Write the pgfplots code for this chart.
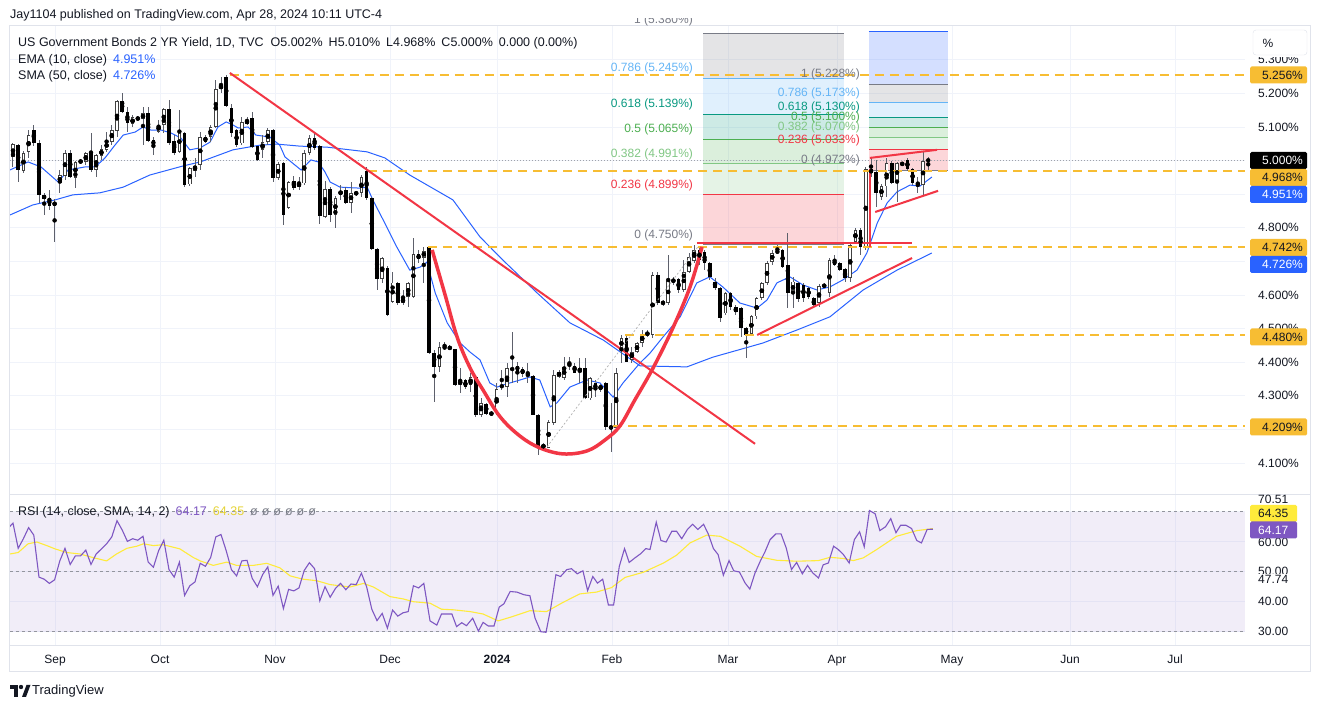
\documentclass[border=0pt]{standalone}
\usepackage{fontspec}
\setmainfont{Liberation Sans}
\usepackage{pgfplots}
\usepackage{pgfplotstable}
\pgfplotsset{compat=1.18}

\definecolor{tvtext}{HTML}{131722}
\definecolor{tvgrid}{HTML}{F0F3FA}
\definecolor{tvframe}{HTML}{E0E3EB}
\definecolor{tvblue}{HTML}{2962FF}
\definecolor{tvred}{HTML}{F23645}
\definecolor{tvyel}{HTML}{F7BD33}
\definecolor{fibgray}{HTML}{787B86}
\definecolor{fibgreenl}{HTML}{81C784}
\definecolor{fibgreen}{HTML}{4CAF50}
\definecolor{fibteal}{HTML}{089981}
\definecolor{fibblue}{HTML}{64B5F6}
\definecolor{rsipurple}{HTML}{7E57C2}
\definecolor{rsiyel}{HTML}{FFEB3B}
\definecolor{wick}{HTML}{5D606B}

% daily candles, i = bar index (5.2 px per bar)
\pgfplotstableread{
i o h l c
0 5.010 5.053 4.982 5.049
1 5.046 5.050 4.937 4.972
2 4.970 5.028 4.962 5.022
3 5.027 5.091 5.007 5.076
4 5.091 5.106 5.045 5.052
5 5.052 5.060 4.873 4.898
6 4.898 4.905 4.839 4.885
7 4.888 4.913 4.853 4.865
8 4.865 4.885 4.759 4.878
9 4.932 4.972 4.903 4.957
10 4.954 5.032 4.942 5.022
11 5.024 5.032 4.947 4.952
12 4.947 5.000 4.917 4.997
13 5.000 5.005 4.990 4.994
14 4.997 5.027 4.987 5.022
15 5.024 5.081 4.967 4.972
16 4.972 5.020 4.952 5.017
17 5.014 5.046 5.002 5.034
18 5.032 5.086 5.027 5.058
19 5.056 5.106 5.046 5.091
20 5.089 5.180 5.071 5.177
21 5.177 5.200 5.141 5.146
22 5.146 5.160 5.086 5.113
23 5.108 5.135 5.100 5.129
24 5.128 5.132 5.118 5.123
25 5.123 5.160 5.046 5.141
26 5.141 5.160 5.056 5.058
27 5.061 5.071 5.017 5.046
28 5.086 5.121 5.081 5.106
29 5.106 5.156 5.081 5.154
30 5.154 5.180 5.047 5.053
31 5.058 5.076 5.017 5.022
32 5.027 5.151 5.022 5.086
33 5.083 5.086 4.922 4.927
34 4.929 4.980 4.925 4.977
35 4.969 5.007 4.952 4.985
36 4.987 5.086 4.972 5.071
37 5.071 5.076 5.051 5.056
38 5.071 5.106 5.056 5.101
39 5.099 5.240 5.096 5.213
40 5.213 5.250 5.200 5.225
41 5.250 5.256 5.160 5.163
42 5.157 5.170 5.071 5.081
43 5.091 5.095 5.040 5.046
44 5.051 5.131 5.046 5.116
45 5.109 5.131 5.105 5.121
46 5.126 5.146 5.037 5.042
47 5.042 5.045 4.998 5.002
48 5.032 5.076 5.007 5.056
49 5.056 5.096 5.046 5.091
50 5.091 5.095 4.937 4.947
51 4.947 4.995 4.942 4.989
52 4.992 4.995 4.808 4.838
53 4.858 4.940 4.855 4.937
54 4.939 4.954 4.912 4.917
55 4.922 4.952 4.912 4.934
56 4.932 5.032 4.927 5.022
57 5.022 5.076 5.017 5.066
58 5.066 5.081 5.032 5.037
59 5.042 5.045 4.811 4.836
60 4.833 4.940 4.830 4.915
61 4.914 4.920 4.818 4.838
62 4.838 4.895 4.798 4.888
63 4.898 4.927 4.883 4.910
64 4.912 4.920 4.870 4.875
65 4.875 4.937 4.843 4.903
66 4.901 4.910 4.895 4.905
67 4.903 4.957 4.893 4.952
68 4.968 4.982 4.883 4.888
69 4.888 4.892 4.733 4.736
70 4.736 4.740 4.615 4.647
71 4.647 4.714 4.635 4.709
72 4.681 4.685 4.537 4.540
73 4.580 4.669 4.575 4.637
74 4.635 4.640 4.570 4.575
75 4.575 4.615 4.570 4.592
76 4.593 4.640 4.565 4.635
77 4.593 4.769 4.590 4.721
78 4.721 4.734 4.694 4.706
79 4.711 4.744 4.635 4.731
80 4.742 4.742 4.425 4.428
81 4.428 4.436 4.282 4.387
82 4.387 4.461 4.372 4.444
83 4.441 4.461 4.436 4.446
84 4.446 4.450 4.435 4.439
85 4.439 4.440 4.329 4.332
86 4.332 4.382 4.307 4.347
87 4.347 4.350 4.320 4.325
88 4.332 4.367 4.312 4.357
89 4.357 4.360 4.238 4.243
90 4.243 4.292 4.238 4.278
91 4.276 4.280 4.242 4.246
92 4.246 4.250 4.244 4.248
93 4.248 4.337 4.243 4.319
94 4.325 4.377 4.317 4.332
95 4.325 4.397 4.297 4.382
96 4.377 4.491 4.337 4.382
97 4.389 4.402 4.337 4.375
98 4.379 4.387 4.357 4.365
99 4.360 4.397 4.337 4.364
100 4.360 4.362 4.243 4.243
101 4.243 4.245 4.124 4.149
102 4.146 4.160 4.140 4.154
103 4.146 4.228 4.144 4.223
104 4.218 4.377 4.213 4.362
105 4.357 4.377 4.352 4.372
106 4.352 4.416 4.347 4.387
107 4.395 4.416 4.377 4.389
108 4.389 4.397 4.367 4.369
109 4.372 4.411 4.337 4.382
110 4.382 4.411 4.290 4.292
111 4.292 4.357 4.287 4.352
112 4.337 4.347 4.297 4.319
113 4.317 4.336 4.312 4.332
114 4.337 4.340 4.198 4.208
115 4.203 4.278 4.134 4.208
116 4.203 4.382 4.198 4.367
117 4.441 4.480 4.397 4.471
118 4.471 4.480 4.400 4.402
119 4.407 4.446 4.397 4.431
120 4.431 4.460 4.426 4.456
121 4.456 4.496 4.446 4.484
122 4.488 4.495 4.475 4.481
123 4.481 4.669 4.471 4.660
124 4.660 4.669 4.570 4.575
125 4.580 4.585 4.568 4.573
126 4.575 4.719 4.570 4.643
127 4.640 4.655 4.630 4.645
128 4.647 4.652 4.605 4.615
129 4.615 4.704 4.610 4.669
130 4.669 4.724 4.665 4.714
131 4.700 4.750 4.695 4.735
132 4.735 4.745 4.690 4.705
133 4.729 4.734 4.674 4.694
134 4.694 4.699 4.645 4.655
135 4.640 4.650 4.615 4.620
136 4.620 4.625 4.521 4.531
137 4.545 4.610 4.540 4.605
138 4.605 4.610 4.555 4.565
139 4.565 4.570 4.540 4.550
140 4.560 4.565 4.476 4.501
141 4.501 4.506 4.412 4.481
142 4.484 4.540 4.480 4.536
143 4.536 4.595 4.530 4.590
144 4.590 4.640 4.585 4.635
145 4.635 4.700 4.630 4.694
146 4.699 4.734 4.690 4.726
147 4.726 4.749 4.722 4.731
148 4.734 4.738 4.680 4.684
149 4.689 4.784 4.560 4.605
150 4.605 4.655 4.560 4.640
151 4.635 4.640 4.580 4.587
152 4.630 4.635 4.580 4.590
153 4.620 4.625 4.588 4.595
154 4.590 4.595 4.560 4.570
155 4.575 4.632 4.565 4.627
156 4.625 4.635 4.620 4.630
157 4.605 4.710 4.595 4.704
158 4.704 4.719 4.685 4.689
159 4.694 4.699 4.670 4.674
160 4.676 4.680 4.640 4.650
161 4.650 4.754 4.640 4.749
162 4.759 4.800 4.755 4.793
163 4.793 4.798 4.719 4.744
164 4.744 4.980 4.734 4.974
165 4.974 5.012 4.952 4.962
166 4.967 5.002 4.863 4.903
167 4.893 4.930 4.883 4.923
168 4.923 5.007 4.893 4.992
169 4.992 5.000 4.930 4.934
170 4.937 4.997 4.878 4.992
171 4.989 4.997 4.983 4.992
172 5.002 5.007 4.970 4.974
173 4.974 4.978 4.927 4.934
174 4.934 4.952 4.903 4.929
175 4.927 5.027 4.898 5.000
176 5.002 5.010 4.968 5.000
}\ohlc

\pgfplotstableread{
i v
-0.6 4.972
2.9 4.996
5.4 4.981
8.7 4.936
10.6 4.972
13.8 4.981
15.8 4.981
17.7 5.008
19.6 5.046
21.2 5.076
23.5 5.085
25.0 5.100
26.5 5.091
28.5 5.091
30.4 5.082
32.3 5.067
34.0 5.032
36.0 5.038
37.9 5.055
39.4 5.100
41.0 5.115
42.3 5.106
43.3 5.097
45.2 5.100
46.7 5.076
49.4 5.070
51.3 5.046
52.3 5.011
54.2 4.987
55.4 4.972
57.3 5.002
58.7 4.996
60.0 4.966
61.0 4.936
62.9 4.921
66.7 4.918
68.1 4.921
69.2 4.883
71.2 4.823
73.8 4.743
76.3 4.674
78.3 4.683
79.6 4.698
81.2 4.606
83.5 4.517
86.0 4.457
87.9 4.430
89.8 4.407
91.7 4.338
93.1 4.326
94.2 4.332
97.5 4.347
99.4 4.356
101.3 4.347
103.3 4.267
104.6 4.279
107.1 4.326
110.4 4.347
112.9 4.338
115.4 4.296
117.3 4.338
120.6 4.398
122.5 4.427
125.0 4.475
128.3 4.535
131.5 4.636
134.0 4.654
136.5 4.624
139.8 4.576
143.1 4.561
145.0 4.585
146.9 4.636
149.4 4.654
151.9 4.630
154.6 4.615
157.1 4.624
159.6 4.645
162.3 4.674
164.2 4.725
166.2 4.814
168.1 4.874
170.0 4.907
172.5 4.927
174.4 4.924
176.7 4.951
}\ema

\pgfplotstableread{
i v
-0.6 4.838
3.8 4.868
8.1 4.883
11.5 4.898
16.7 4.904
21.2 4.921
26.3 4.957
32.7 4.984
36.0 4.996
42.3 5.032
47.5 5.046
50.8 5.049
55.2 5.043
60.4 5.040
68.1 5.026
71.5 5.008
76.3 4.957
84.6 4.883
89.8 4.773
94.2 4.704
100.8 4.606
107.1 4.517
113.5 4.466
120.6 4.389
129.6 4.386
134.6 4.415
144.2 4.457
150.8 4.496
157.1 4.535
163.5 4.615
170.0 4.674
176.7 4.725
}\sma

\pgfplotstableread{
i r
-0.6 65.1
0 66.2
1 57.8
2 61.0
3 64.7
4 62.2
5 48.2
6 47.5
7 46.1
8 47.3
9 53.6
10 57.8
11 52.4
12 55.3
13 55.3
14 57.2
15 52.4
16 55.9
17 57.6
18 59.3
19 61.6
20 67.0
21 63.9
22 60.1
23 61.0
24 60.5
25 61.8
26 53.2
27 51.5
28 57.0
29 60.5
30 50.7
31 48.2
32 53.2
33 42.1
34 45.3
35 46.6
36 52.8
37 51.8
38 54.7
39 61.6
40 62.4
41 57.0
42 50.7
43 48.6
44 53.6
45 53.8
46 47.8
47 45.0
48 49.0
49 51.6
50 42.1
51 45.2
52 37.7
53 44.1
54 43.6
55 44.6
56 50.4
57 53.0
58 51.0
59 40.3
60 45.0
61 41.5
62 44.4
63 46.1
64 44.0
65 45.9
66 45.7
67 49.5
68 45.0
69 37.5
70 33.7
71 36.1
72 31.2
73 37.2
74 35.2
75 36.3
76 36.7
77 45.3
78 44.6
79 46.1
80.2 33.6
81.5 32.2
82.4 35.9
84.4 35.9
85.3 31.7
86.3 33.0
87.2 32.0
88.4 34.5
89.5 30.2
90.4 33.1
91.4 31.9
92.5 31.9
93.5 38.2
94.4 39.3
95.6 43.4
96.9 43.2
98.3 42.3
99.4 42.0
100.4 34.5
101.5 30.0
102.5 29.8
103.4 37.8
104.4 49.0
105.3 48.4
106.5 50.7
107.4 51.0
108.5 49.3
109.6 50.3
110.5 43.7
111.5 48.4
112.4 46.2
113.4 47.5
114.5 38.9
115.5 38.9
116.6 51.8
117.6 57.7
118.5 53.1
119.6 54.6
120.7 56.0
121.7 57.7
122.5 57.4
123.7 66.5
124.6 60.4
125.6 59.9
126.7 63.5
127.6 63.5
128.6 61.0
129.7 64.1
130.7 65.8
131.7 64.1
132.8 65.8
133.7 62.6
134.7 57.7
135.6 55.7
136.6 48.8
137.7 53.7
138.6 50.3
139.7 49.9
140.8 46.2
141.7 44.2
142.7 49.6
143.7 53.5
144.6 56.6
145.6 60.7
146.7 62.6
147.7 62.6
148.7 57.9
149.7 50.7
150.7 53.1
151.8 49.3
152.8 52.1
153.8 49.6
154.9 47.9
155.8 52.3
156.8 52.9
157.8 58.5
158.7 57.4
159.7 55.7
160.8 52.9
161.8 60.7
162.8 63.3
163.7 58.3
164.7 70.4
165.8 69.3
166.7 63.7
167.8 65.0
168.8 67.7
169.8 63.0
170.7 65.5
171.7 65.5
172.8 64.4
173.8 60.4
174.7 59.6
175.8 64.1
176.9 64.17
}\rsi

\pgfplotstableread{
i r
-0.6 55.9
1.0 56.4
2.9 59.3
4.6 59.9
6.5 58.7
8.1 57.6
10.3 56.4
12.9 55.9
15.4 54.7
18.0 53.6
19.9 55.9
21.9 57.8
23.8 58.5
25.1 59.3
27.0 58.7
28.9 59.0
32.1 57.6
34.7 54.7
36.0 53.6
38.5 52.1
41.1 53.2
43.0 52.1
46.2 52.1
48.8 52.8
51.3 51.3
53.3 48.6
55.8 47.5
58.4 47.0
61.0 45.7
64.8 44.9
67.4 46.1
69.3 44.9
72.5 41.7
75.1 40.9
77.0 40.0
80.2 39.5
82.4 37.5
84.7 37.3
87.9 36.7
90.4 35.9
93.3 33.6
95.6 34.8
99.4 37.0
102.6 36.7
105.8 39.8
109.0 42.6
112.2 43.2
115.1 44.7
117.7 48.1
121.2 49.8
125.1 52.9
127.6 55.5
130.2 59.6
133.4 62.2
136.0 61.8
139.8 58.5
143.0 55.1
146.9 53.8
150.7 53.5
154.9 53.7
157.1 54.8
159.7 54.4
161.6 53.7
163.5 54.6
166.1 57.4
169.9 61.8
173.8 63.7
176.9 64.35
}\rsima

\pgfplotsset{
  tvaxis/.style={scale only axis, width=1235pt, xmin=-0.577, xmax=236.92,
    axis line style={draw=none}, major tick length=0pt,
    grid=major, major grid style={color=tvgrid, line width=0.8pt},
    xtick={8.08,28.27,50.38,72.5,93.08,115.19,137.5,158.46,180.58,203.27,223.46}},
  candlebar/.style 2 args={only marks, mark=none, forget plot,
    error bars/.cd, y dir=both, y explicit, error mark=none,
    error bar style={line width=#1, color=#2}},
}

\begin{document}
\begin{tikzpicture}[font=\fontsize{12.5}{15}\selectfont]
\useasboundingbox (0,0) rectangle (1320pt,708pt);
\fill[white] (0,0) rectangle (1320pt,708pt);

% ---------- price pane ----------
\begin{axis}[tvaxis, at={(10pt,214pt)}, anchor=south west, height=469pt,
  ymin=4.0077, ymax=5.4036, ytick={4.1,4.2,...,5.3},
  xticklabel={\relax}, yticklabel pos=right,
  /pgf/number format/assume math mode=true,
  yticklabel={\pgfmathprintnumber[fixed,fixed zerofill,precision=3]{\tick}\%},
  yticklabel style={anchor=west, inner sep=0pt, xshift=13pt,
    font=\fontsize{12}{14}\selectfont, text=tvtext}]

% fib retracement 1 (left)
\fill[tvred, fill opacity=0.2] (axis cs:132.7,4.750) rectangle (axis cs:159.8,4.899);
\fill[fibgreenl, fill opacity=0.2] (axis cs:132.7,4.899) rectangle (axis cs:159.8,4.991);
\fill[fibgreen, fill opacity=0.2] (axis cs:132.7,4.991) rectangle (axis cs:159.8,5.065);
\fill[fibteal, fill opacity=0.2] (axis cs:132.7,5.065) rectangle (axis cs:159.8,5.139);
\fill[fibblue, fill opacity=0.2] (axis cs:132.7,5.139) rectangle (axis cs:159.8,5.245);
\fill[fibgray, fill opacity=0.2] (axis cs:132.7,5.245) rectangle (axis cs:159.8,5.380);
\draw[fibgray] (axis cs:132.7,4.750) -- (axis cs:159.8,4.750);
\draw[tvred] (axis cs:132.7,4.899) -- (axis cs:159.8,4.899);
\draw[fibgreenl] (axis cs:132.7,4.991) -- (axis cs:159.8,4.991);
\draw[fibgreen] (axis cs:132.7,5.065) -- (axis cs:159.8,5.065);
\draw[fibteal] (axis cs:132.7,5.139) -- (axis cs:159.8,5.139);
\draw[fibblue] (axis cs:132.7,5.245) -- (axis cs:159.8,5.245);
\draw[fibgray] (axis cs:132.7,5.380) -- (axis cs:159.8,5.380);
% fib retracement 2 (right)
\fill[tvred, fill opacity=0.2] (axis cs:164.6,4.972) rectangle (axis cs:179.8,5.033);
\fill[fibgreenl, fill opacity=0.2] (axis cs:164.6,5.033) rectangle (axis cs:179.8,5.070);
\fill[fibgreen, fill opacity=0.2] (axis cs:164.6,5.070) rectangle (axis cs:179.8,5.100);
\fill[fibteal, fill opacity=0.2] (axis cs:164.6,5.100) rectangle (axis cs:179.8,5.130);
\fill[fibblue, fill opacity=0.2] (axis cs:164.6,5.130) rectangle (axis cs:179.8,5.173);
\fill[fibgray, fill opacity=0.2] (axis cs:164.6,5.173) rectangle (axis cs:179.8,5.228);
\fill[tvblue, fill opacity=0.2] (axis cs:164.6,5.228) rectangle (axis cs:179.8,5.386);
\draw[fibgray] (axis cs:164.6,4.972) -- (axis cs:179.8,4.972);
\draw[tvred] (axis cs:164.6,5.033) -- (axis cs:179.8,5.033);
\draw[fibgreenl] (axis cs:164.6,5.070) -- (axis cs:179.8,5.070);
\draw[fibgreen] (axis cs:164.6,5.100) -- (axis cs:179.8,5.100);
\draw[fibteal] (axis cs:164.6,5.130) -- (axis cs:179.8,5.130);
\draw[fibblue] (axis cs:164.6,5.173) -- (axis cs:179.8,5.173);
\draw[fibgray] (axis cs:164.6,5.228) -- (axis cs:179.8,5.228);
\draw[tvblue] (axis cs:164.6,5.386) -- (axis cs:179.8,5.386);

% last price dotted line
\draw[fibgray!70, dash pattern=on 1pt off 2pt] (axis cs:-0.577,5.000) -- (axis cs:236.92,5.000);

% moving averages
\addplot[tvblue, line width=1pt] table[x=i, y=v] {\sma};
\addplot[tvblue, line width=1pt] table[x=i, y=v] {\ema};

% candles: wicks, bodies, hollow interiors
\addplot[candlebar={1pt}{wick}]
  table[x=i, y expr={(\thisrow{h}+\thisrow{l})/2}, y error expr={(\thisrow{h}-\thisrow{l})/2}] {\ohlc};
\addplot[candlebar={3.6pt}{black}]
  table[x=i, y expr={\thisrow{c}>\thisrow{o} ? nan : (\thisrow{o}+\thisrow{c})/2},
        y error expr={max(abs(\thisrow{o}-\thisrow{c})/2,0.0016)}] {\ohlc};
\addplot[candlebar={3.6pt}{black!75}]
  table[x=i, y expr={\thisrow{c}>\thisrow{o} ? (\thisrow{o}+\thisrow{c})/2 : nan},
        y error expr={max(abs(\thisrow{o}-\thisrow{c})/2,0.0016)}] {\ohlc};
\addplot[candlebar={1.8pt}{white}]
  table[x=i, y expr={\thisrow{c}-\thisrow{o} > 0.007 ? (\thisrow{o}+\thisrow{c})/2 : nan},
        y error expr={abs(\thisrow{o}-\thisrow{c})/2-0.0027}] {\ohlc};

% horizontal levels
\begin{scope}[tvyel, line width=2pt, dash pattern=on 9pt off 6pt]
\draw (axis cs:41.7,5.256) -- (axis cs:236.92,5.256);
\draw (axis cs:68.3,4.968) -- (axis cs:236.92,4.968);
\draw (axis cs:79.8,4.742) -- (axis cs:236.92,4.742);
\draw (axis cs:117.7,4.480) -- (axis cs:236.92,4.480);
\draw (axis cs:115.4,4.209) -- (axis cs:236.92,4.209);
\end{scope}

% trend drawings
\draw[gray!60, line width=0.7pt, dash pattern=on 2pt off 2pt] (axis cs:102.7,4.148) -- (axis cs:131.7,4.743);
\draw[tvred, line width=2pt] (axis cs:41.7,5.261) -- (axis cs:142.7,4.157);
\addplot[tvred, line width=3.5pt, smooth, tension=0.6] coordinates {
  (80.6,4.734) (83.1,4.600) (85.4,4.475) (87.9,4.383) (90.4,4.317) (93.7,4.237)
  (97.5,4.180) (101.3,4.145) (105.8,4.127) (110.4,4.136) (113.8,4.168) (116.7,4.210)
  (119.6,4.288) (123.1,4.383) (126.9,4.502) (130.2,4.624) (132.5,4.743)};
\draw[tvred, line width=2.5pt] (axis cs:131.5,4.755) -- (axis cs:172.9,4.755);
\draw[tvred, line width=2pt] (axis cs:164.8,4.743) -- (axis cs:164.8,4.975);
\draw[tvred, line width=2pt] (axis cs:143.1,4.481) -- (axis cs:172.9,4.710);
\draw[tvred, line width=2pt] (axis cs:164.8,5.008) -- (axis cs:177.7,5.032);
\draw[tvred, line width=2pt] (axis cs:165.8,4.847) -- (axis cs:177.9,4.910);

% fib labels
\begin{scope}[every node/.style={anchor=east, inner sep=0pt, yshift=9.5pt, font=\fontsize{12}{14}\selectfont}]
\node[text=fibgray] at (axis cs:130.8,4.750) {0 (4.750\%)};
\node[text=tvred] at (axis cs:130.8,4.899) {0.236 (4.899\%)};
\node[text=fibgreenl] at (axis cs:130.8,4.991) {0.382 (4.991\%)};
\node[text=fibgreen] at (axis cs:130.8,5.065) {0.5 (5.065\%)};
\node[text=fibteal] at (axis cs:130.8,5.139) {0.618 (5.139\%)};
\node[text=fibblue] at (axis cs:130.8,5.245) {0.786 (5.245\%)};
\node[text=fibgray] at (axis cs:162.9,4.972) {0 (4.972\%)};
\node[text=tvred] at (axis cs:162.9,5.033) {0.236 (5.033\%)};
\node[text=fibgreenl] at (axis cs:162.9,5.070) {0.382 (5.070\%)};
\node[text=fibgreen] at (axis cs:162.9,5.100) {0.5 (5.100\%)};
\node[text=fibteal] at (axis cs:162.9,5.130) {0.618 (5.130\%)};
\node[text=fibblue] at (axis cs:162.9,5.173) {0.786 (5.173\%)};
\node[text=fibgray] at (axis cs:162.9,5.228) {1 (5.228\%)};
\end{scope}
\end{axis}

% ---------- RSI pane ----------
\begin{axis}[tvaxis, at={(10pt,63pt)}, anchor=south west, height=150pt,
  ymin=25.57, ymax=75.57, ytick={30,40,50,60,70}, yticklabel={\relax},
  xticklabels={Sep,Oct,Nov,Dec,\textbf{2024},Feb,Mar,Apr,May,Jun,Jul},
  xticklabel style={anchor=center, yshift=-15pt, text height=9pt, text depth=2.5pt,
    font=\fontsize{12}{14}\selectfont, text=tvtext}]
\fill[rsipurple, fill opacity=0.1] (axis cs:-0.577,30) rectangle (axis cs:236.92,70);
\begin{scope}[fibgray!80, dash pattern=on 3pt off 3pt, line width=0.7pt]
\draw (axis cs:-0.577,70) -- (axis cs:236.92,70);
\draw (axis cs:-0.577,50) -- (axis cs:236.92,50);
\draw (axis cs:-0.577,30) -- (axis cs:236.92,30);
\end{scope}
\addplot[rsiyel, line width=1.1pt] table[x=i, y=r] {\rsima};
\addplot[rsipurple, line width=1.1pt] table[x=i, y=r] {\rsi};
\end{axis}

% ---------- overlays in pixel coordinates ----------
\begin{scope}[x=1pt, y=-1pt, yshift=708pt]
\draw[tvframe, line width=1pt] (9.5,26) rectangle (1310,672);
\draw[tvframe, line width=1pt] (9.5,495) -- (1310,495);
\draw[tvframe, line width=0.8pt] (9.5,645) -- (1310,645);

% header
\node[anchor=west, inner sep=0pt, text=tvtext] at (10,15) {Jay1104 published on TradingView.com, Apr 28, 2024 10:11 UTC-4};
\node[anchor=west, inner sep=0pt, text=tvtext] at (18,43) {US Government Bonds 2 YR Yield, 1D, TVC\hspace{7pt}O5.002\%\hspace{6pt}H5.010\%\hspace{6pt}L4.968\%\hspace{6pt}C5.000\%\hspace{6pt}0.000 (0.00\%)};
\node[anchor=west, inner sep=0pt, text=tvtext] at (18,60) {EMA (10, close)\hspace{6pt}\textcolor{tvblue}{4.951\%}};
\node[anchor=west, inner sep=0pt, text=tvtext] at (18,76) {SMA (50, close)\hspace{6pt}\textcolor{tvblue}{4.726\%}};
\begin{scope}
\clip (600,19) rectangle (700,27);
\node[anchor=east, inner sep=0pt, text=fibgray, font=\fontsize{12}{14}\selectfont] at (693,20) {1 (5.380\%)};
\end{scope}

% price scale
\fill[white] (1248,27) rectangle (1309,57);
\draw[tvframe, rounded corners=3pt] (1253,30) rectangle (1307,55);
\node[text=tvtext, font=\fontsize{12}{14}\selectfont] at (1268,43) {\%};
\begin{scope}[every node/.style={anchor=west, minimum width=57pt, minimum height=17pt,
    inner sep=0pt, text width=49pt, align=left, font=\fontsize{12}{14}\selectfont, rounded corners=1.5pt}]
\node[fill=tvyel, text=tvtext] at (1250,75) {\hspace*{8pt}5.256\%};
\node[fill=black, text=white] at (1250,160.5) {\hspace*{8pt}5.000\%};
\node[fill=tvyel, text=tvtext] at (1250,177.5) {\hspace*{8pt}4.968\%};
\node[fill=tvblue, text=white] at (1250,194.5) {\hspace*{8pt}4.951\%};
\node[fill=tvyel, text=tvtext] at (1250,247.5) {\hspace*{8pt}4.742\%};
\node[fill=tvblue, text=white] at (1250,264.5) {\hspace*{8pt}4.726\%};
\node[fill=tvyel, text=tvtext] at (1250,337) {\hspace*{8pt}4.480\%};
\node[fill=tvyel, text=tvtext] at (1250,427) {\hspace*{8pt}4.209\%};
\end{scope}

% RSI legend and scale
\node[anchor=west, inner sep=0pt, text=tvtext] at (18,512) {RSI (14, close, SMA, 14, 2)\hspace{6pt}\textcolor{rsipurple}{64.17}\hspace{6pt}\textcolor{rsiyel!90!black}{64.35}\hspace{6pt}\textcolor{fibgray}{ø\hspace{4pt}ø\hspace{4pt}ø\hspace{4pt}ø\hspace{4pt}ø\hspace{4pt}ø}};
\begin{scope}[every node/.style={anchor=west, inner sep=0pt, text=tvtext, font=\fontsize{12}{14}\selectfont}]
\node at (1258,499) {70.51};
\node at (1258,542) {60.00};
\node at (1258,571) {50.00};
\node[fill=white, inner ysep=1pt] at (1258,579) {47.74};
\node at (1258,601.5) {40.00};
\node at (1258,631.5) {30.00};
\end{scope}
\node[anchor=west, fill=rsiyel, text=tvtext, minimum width=47pt, minimum height=17pt, inner sep=0pt, text width=47pt, align=left, font=\fontsize{12}{14}\selectfont, rounded corners=1.5pt] at (1250,513.5) {\hspace*{8pt}64.35};
\node[anchor=west, fill=rsipurple, text=white, minimum width=47pt, minimum height=17pt, inner sep=0pt, text width=47pt, align=left, font=\fontsize{12}{14}\selectfont, rounded corners=1.5pt] at (1250,530) {\hspace*{8pt}64.17};

% footer logo
\fill[tvtext] (10,685) rectangle (18,689);
\fill[tvtext] (14,689) rectangle (18,697);
\fill[tvtext] (21,687) circle (2.2);
\fill[tvtext] (22,697) -- (26.5,685) -- (30.5,685) -- (26,697) -- cycle;
\node[anchor=west, inner sep=0pt, text=tvtext, font=\fontsize{13}{15}\selectfont] at (32,691) {TradingView};
\end{scope}
\end{tikzpicture}
\end{document}
